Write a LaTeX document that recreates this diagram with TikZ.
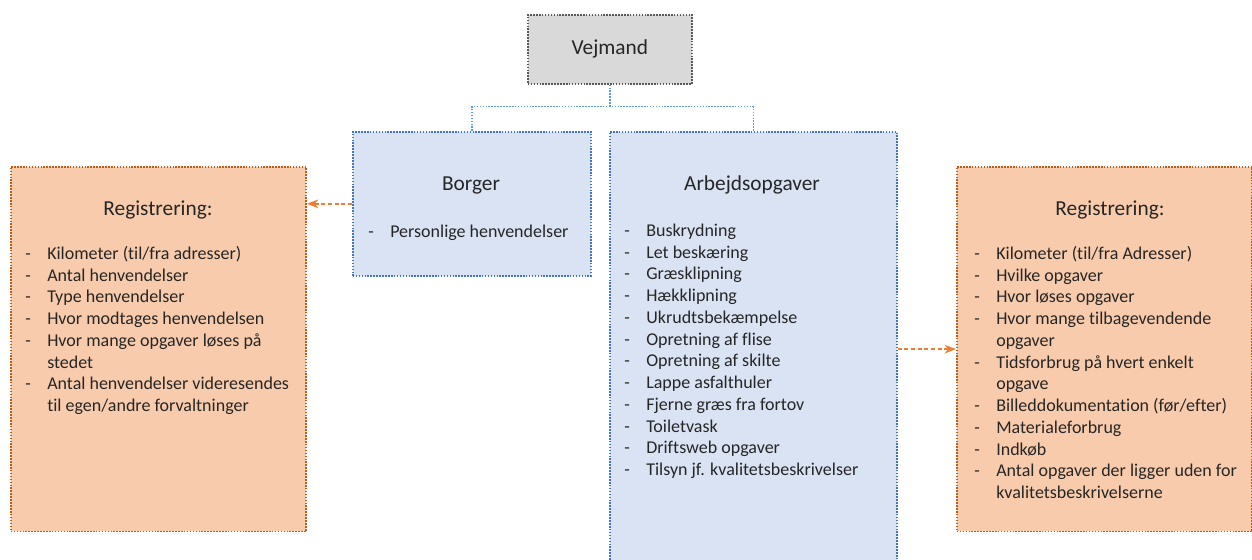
\documentclass[tikz,border=0pt]{standalone}
\usepackage{fontspec}
\setmainfont{Carlito}[Ligatures=NoCommon]
\usetikzlibrary{arrows.meta,positioning}
\definecolor{vejfill}{HTML}{D9D9D9}
\definecolor{vejedge}{HTML}{595959}
\definecolor{bluefill}{HTML}{DAE3F3}
\definecolor{blueedge}{HTML}{4472C4}
\definecolor{treeline}{HTML}{5B9BD5}
\definecolor{regfill}{HTML}{F8CBAD}
\definecolor{regedge}{HTML}{C55A11}
\definecolor{flowline}{HTML}{ED7D31}
\newcommand{\itemlist}[1]{\begin{tabular}{@{}p{16.5pt}@{}l@{}}#1\end{tabular}}

\begin{document}
\begin{tikzpicture}[
    x=0.75pt, y=-0.75pt,
    box/.style={rectangle, anchor=north west, inner sep=0pt, densely dotted, very thick},
    vejbox/.style={box, draw=vejedge, fill=vejfill, minimum width=123pt, minimum height=51.75pt},
    taskbox/.style={box, draw=blueedge, fill=bluefill},
    regbox/.style={box, draw=regedge, fill=regfill, minimum width=221.5pt, minimum height=273.5pt},
    title/.style={font=\fontsize{16}{19}\selectfont, text=black!85},
    list/.style={anchor=north west, inner sep=0pt, font=\fontsize{13.5}{16.3}\selectfont, text=black!85},
    tree/.style={treeline, densely dotted, very thick},
    flow/.style={-{Stealth[length=3mm]}, flowline, densely dashed, line width=1.6pt},
]
    \useasboundingbox (0,0) rectangle (1252,560);

    % top node and the two columns below it
    \node[vejbox, title] (vejmand) at (527,14) {Vejmand};
    \node[taskbox, minimum width=178.5pt, minimum height=108pt] (borger) at (352,131) {};
    \node[taskbox, minimum width=215.25pt, minimum height=325.5pt] (arbejd) at (609,131) {};

    \node[title] (borgertitle) at (471,185) {Borger};
    \node[title] (arbejdtitle) at (752,185) {Arbejdsopgaver};

    \node[list] (borgerlist) at (368,222) {\itemlist{- & Personlige henvendelser}};
    \node[list] (arbejdlist) at (624,221) {\itemlist{%
        - & Buskrydning\\
        - & Let beskæring\\
        - & Græsklipning\\
        - & Hækklipning\\
        - & Ukrudtsbekæmpelse\\
        - & Opretning af flise\\
        - & Opretning af skilte\\
        - & Lappe asfalthuler\\
        - & Fjerne græs fra fortov\\
        - & Toiletvask\\
        - & Driftsweb opgaver\\
        - & Tilsyn jf. kvalitetsbeskrivelser}};

    % registration boxes
    \node[regbox] (regleft) at (10,166) {};
    \node[regbox] (regright) at (956,166) {};

    \node[title] (reglefttitle) at (158,210) {Registrering:};
    \node[title] (regrighttitle) at (1110,210) {Registrering:};

    \node[list] (regleftlist) at (25,244) {\itemlist{%
        - & Kilometer (til/fra adresser)\\
        - & Antal henvendelser\\
        - & Type henvendelser\\
        - & Hvor modtages henvendelsen\\
        - & Hvor mange opgaver løses på\\
          & stedet\\
        - & Antal henvendelser videresendes\\
          & til egen/andre forvaltninger}};
    \node[list] (regrightlist) at (974,244) {\itemlist{%
        - & Kilometer (til/fra Adresser)\\
        - & Hvilke opgaver\\
        - & Hvor løses opgaver\\
        - & Hvor mange tilbagevendende\\
          & opgaver\\
        - & Tidsforbrug på hvert enkelt\\
          & opgave\\
        - & Billeddokumentation (før/efter)\\
        - & Materialeforbrug\\
        - & Indkøb\\
        - & Antal opgaver der ligger uden for\\
          & kvalitetsbeskrivelserne}};

    % connectors
    \draw[tree] (vejmand.south) -- ++(0,22) coordinate (fork);
    \draw[tree] (borger.north) |- (fork) -| (arbejd.north);
    \draw[flow] (borger.west) -- (borger.west -| regleft.east);
    \draw[flow] (regright.west -| arbejd.east) -- (regright.west);
\end{tikzpicture}
\end{document}
